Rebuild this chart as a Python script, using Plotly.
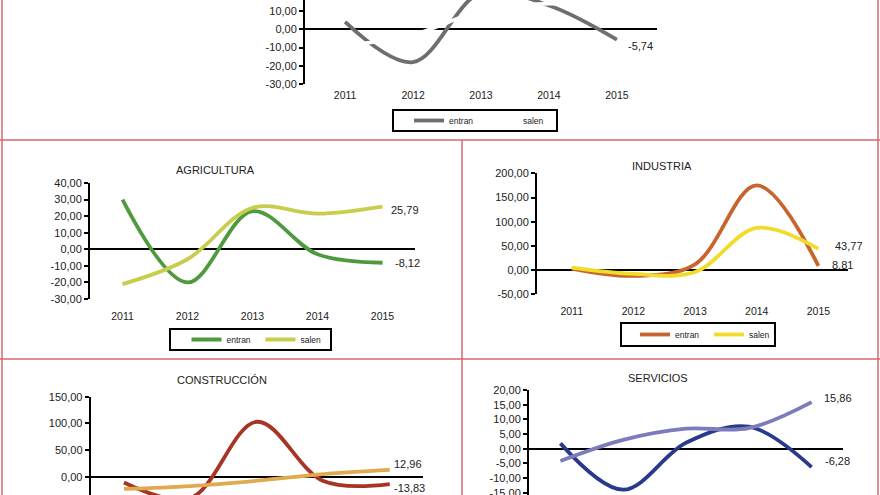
import plotly.graph_objects as go

W, H = 880, 495

years = [2011, 2012, 2013, 2014, 2015]
series_names = ["entran", "salen"]

# Top panel (sector cut off at top)
top_entran = [4, -18, 20, 13, -5.74]
top_salen = [-9, -3, 10, 14, 12]

agri_entran = [30, -20, 23, -3, -8.12]
agri_salen = [-21, -6, 25, 21.5, 25.79]

ind_entran = [3, -12, 12, 175, 8.81]
ind_salen = [5, -8, -4, 87, 43.77]

cons_entran = [-11, -40, 103, -8, -13.83]
cons_salen = [-23, -17.5, -7.5, 5, 12.96]

serv_entran = [1.8, -14, 2, 7.5, -6.28]
serv_salen = [-4.2, 3, 6.8, 7, 15.86]

titles = ["AGRICULTURA", "INDUSTRIA", "CONSTRUCCIÓN", "SERVICIOS"]

FONT = "Liberation Sans, Arial, sans-serif"
TXT = "#222222"


def px(x):
    return x / W


def py(y):
    return 1 - y / H


def fmt(v):
    return f"{v:.2f}".replace(".", ",")


fig = go.Figure()

panels = [
    dict(ax="", e=top_entran, s=top_salen, ce="#6e6e6e", cs="#ffffff",
         xd=(305, 657), yd=(0, 84), xr=[2010.41, 2015.59], yr=[-30, 16.03],
         yt=[-30, -20, -10, 0, 10, 20, 30], leg="legend", xl=True, so=3,
         lab=[(9, -6)], clip=True),
    dict(ax="2", e=agri_entran, s=agri_salen, ce="#4f9a3e", cs="#c9cd4e",
         xd=(90, 415), yd=(183, 299), xr=[2010.5, 2015.5], yr=[-30, 40],
         yt=[-30, -20, -10, 0, 10, 20, 30, 40], leg="legend2", xl=True, so=9,
         lab=[(10, 0), (6, -3.5)], clip=False),
    dict(ax="3", e=ind_entran, s=ind_salen, ce="#c8642d", cs="#f2dc2a",
         xd=(537, 848), yd=(173.3, 294.3), xr=[2010.437, 2015.48], yr=[-50, 200],
         yt=[-50, 0, 50, 100, 150, 200], leg="legend3", xl=True, so=9,
         lab=[(12, 1), (15, 3)], clip=False),
    dict(ax="4", e=cons_entran, s=cons_salen, ce="#a83426", cs="#e0aa50",
         xd=(90.7, 423), yd=(396.7, 495), xr=[2010.5, 2015.5], yr=[-34.3, 150],
         yt=[-50, 0, 50, 100, 150], leg=None, xl=False, so=9,
         lab=[(2, -3.5), (2, 5.5)], clip=False),
    dict(ax="5", e=serv_entran, s=serv_salen, ce="#2a3a8a", cs="#7c7cbc",
         xd=(529, 843), yd=(390, 495), xr=[2010.5, 2015.5], yr=[-15.8, 20],
         yt=[-15, -10, -5, 0, 5, 10, 15, 20], leg=None, xl=False, so=9,
         lab=[(11, 6), (10, 4)], clip=False),
]

for p in panels:
    xa = "x" + p["ax"]
    ya = "y" + p["ax"]
    for name, vals, col in [("entran", p["e"], p["ce"]), ("salen", p["s"], p["cs"])]:
        fig.add_trace(go.Scatter(
            x=years, y=vals, name=name, xaxis=xa, yaxis=ya,
            mode="lines",
            line=dict(color=col, width=3.8, shape="spline", smoothing=1.0),
            cliponaxis=p["clip"],
            showlegend=p["leg"] is not None,
            legend=p["leg"] if p["leg"] else "legend",
        ))
    # end-of-line value labels
    for vals, (dx, dy) in zip([p["e"], p["s"]], p["lab"]):
        fig.add_annotation(
            x=years[-1], y=vals[-1], xref=xa, yref=ya, text=fmt(vals[-1]),
            showarrow=False, xanchor="left", yanchor="middle",
            xshift=dx, yshift=dy,
            font=dict(family=FONT, size=11, color=TXT),
        )
    xkey = "xaxis" + p["ax"]
    ykey = "yaxis" + p["ax"]
    fig.layout[xkey] = dict(
        domain=[px(p["xd"][0]), px(p["xd"][1])], range=p["xr"], anchor=ya,
        tickvals=years, ticktext=[str(y) for y in years], showticklabels=p["xl"],
        showgrid=False, zeroline=False, showline=False, ticks="",
        ticklabelstandoff=p["so"], automargin=False,
        tickfont=dict(family=FONT, size=10.5, color=TXT), fixedrange=True,
    )
    fig.layout[ykey] = dict(
        domain=[py(p["yd"][1]), py(p["yd"][0])], range=p["yr"], anchor=xa,
        tickvals=p["yt"], ticktext=[fmt(v) for v in p["yt"]],
        showgrid=False, zeroline=True, zerolinecolor="black", zerolinewidth=2,
        showline=True, linecolor="black", linewidth=2, automargin=False,
        ticks="outside", ticklen=4, tickwidth=2, tickcolor="black",
        ticklabeloverflow="allow",
        tickfont=dict(family=FONT, size=11, color=TXT), fixedrange=True,
    )

legend_common = dict(
    orientation="h", xanchor="center", yanchor="middle",
    borderwidth=0, bgcolor="rgba(0,0,0,0)",
    font=dict(family=FONT, size=8.5, color=TXT),
    itemwidth=30, entrywidth=29, tracegroupgap=0,
)
# legend boxes (left, top, right, bottom) in px
legend_boxes = [(393, 110, 557, 131), (170, 329, 331, 350), (621, 323, 775, 346)]
fig.update_layout(
    legend=dict(x=px(483), y=py(120.5), **legend_common),
    legend2=dict(x=px(260.5), y=py(339.5), **legend_common),
    legend3=dict(x=px(709), y=py(334.5), **legend_common),
)
for (x0, y0, x1, y1) in legend_boxes:
    fig.add_shape(type="rect", xref="paper", yref="paper",
                  x0=px(x0), y0=py(y1), x1=px(x1), y1=py(y0),
                  line=dict(color="black", width=2), fillcolor="white", layer="below")

# Panel titles
title_pos = [(215, 170), (661.7, 166), (221.7, 380), (658.3, 378.3)]
for t, (x, y) in zip(titles, title_pos):
    fig.add_annotation(text=t, x=px(x), y=py(y), xref="paper", yref="paper",
                       showarrow=False, xanchor="center", yanchor="middle",
                       font=dict(family=FONT, size=11, color=TXT))

# Panel frame lines
BORDER = "#d46a6a"
for (x0, y0, x1, y1) in [(0, 140, 880, 140), (0, 359, 880, 359),
                         (462, 140, 462, 495), (2, 0, 2, 495), (878, 0, 878, 495)]:
    fig.add_shape(type="line", xref="paper", yref="paper",
                  x0=px(x0), y0=py(y0), x1=px(x1), y1=py(y1),
                  line=dict(color=BORDER, width=1.5))

fig.update_layout(
    width=W, height=H, margin=dict(l=0, r=0, t=0, b=0, pad=0, autoexpand=False),
    paper_bgcolor="white", plot_bgcolor="white",
    font=dict(family=FONT, color=TXT),
)

fig.write_html(
    "out.html",
    config={"displayModeBar": False},
    post_script="document.body.style.margin='0';document.body.style.overflow='hidden';",
)
